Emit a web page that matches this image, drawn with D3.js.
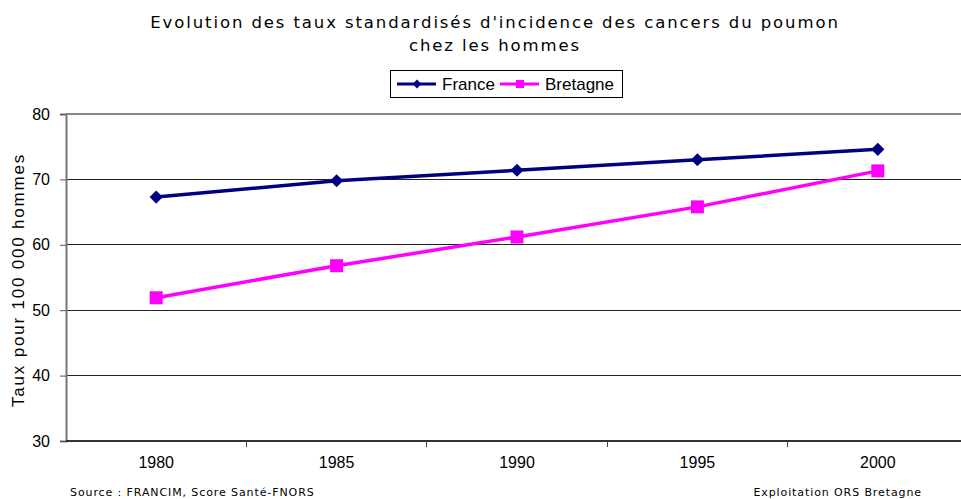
<!DOCTYPE html>
<html><head><meta charset="utf-8">
<script src="https://cdn.jsdelivr.net/npm/d3@7"></script>
<style>body{margin:0;background:#fff}svg{display:block}</style>
</head><body>
<script>
const years = ["1980","1985","1990","1995","2000"];
const france = [67.3, 69.8, 71.4, 73.0, 74.6];
const bretagne = [51.9, 56.8, 61.2, 65.8, 71.3];
const yTicks = [30,40,50,60,70,80];
const titleLines = ["Evolution des taux standardisés d'incidence des cancers du poumon","chez les hommes"];
const seriesNames = ["France","Bretagne"];

(function(){
const W=961,H=499;
const svg=d3.select("body").append("svg").attr("width",W).attr("height",H);
const mLeft=66, mTop=114, mBottom=441, mRight=968;
const x=d3.scaleBand().domain(years).range([mLeft,mRight]);
const y=d3.scaleLinear().domain([30,80]).range([mBottom,mTop]);
const arial="Liberation Sans, Arial, sans-serif", verd="DejaVu Sans, Verdana, sans-serif";

// gridlines
svg.append("g").selectAll("line").data(yTicks.filter(d=>d>30)).join("line")
 .attr("x1",mLeft).attr("x2",W).attr("y1",d=>y(d)).attr("y2",d=>y(d))
 .attr("stroke",d=>d===80?"#888":"#222").attr("stroke-width",d=>d===80?2:1).attr("shape-rendering","crispEdges");

// y axis
const ya=svg.append("g").attr("transform",`translate(${mLeft},0)`)
 .call(d3.axisLeft(y).tickValues(yTicks).tickSize(6).tickPadding(10));
ya.select(".domain").attr("stroke","#777").attr("stroke-width",2);
ya.selectAll(".tick line").attr("stroke","#555");
ya.selectAll("text").attr("font-family",arial).attr("font-size",16).attr("fill","#000");

// x axis
const xa=svg.append("g").attr("transform",`translate(0,${mBottom})`)
 .call(d3.axisBottom(x).tickSize(0).tickPadding(16));
xa.select(".domain").attr("stroke","#333").attr("stroke-width",2).attr("d",`M${mLeft},0H${W}`);
xa.selectAll("text").attr("font-family",arial).attr("font-size",16).attr("fill","#000");
svg.append("g").selectAll("line").data(years.slice(1)).join("line")
 .attr("x1",d=>x(d)).attr("x2",d=>x(d)).attr("y1",mBottom).attr("y2",mBottom+6)
 .attr("stroke","#444").attr("shape-rendering","crispEdges");

const cx=d=>x(d)+x.bandwidth()/2;
const line=d3.line().x((d,i)=>cx(years[i])).y(d=>y(d));
svg.append("path").datum(france).attr("d",line).attr("fill","none").attr("stroke","#000080").attr("stroke-width",3.5);
svg.append("path").datum(bretagne).attr("d",line).attr("fill","none").attr("stroke","#FF00FF").attr("stroke-width",3.5);
const diamond=d3.symbol().type(d3.symbolDiamond2).size(110);
svg.append("g").selectAll("path").data(france).join("path")
 .attr("d",diamond).attr("transform",(d,i)=>`translate(${cx(years[i])},${y(d)})`).attr("fill","#000080");
svg.append("g").selectAll("rect").data(bretagne).join("rect")
 .attr("x",(d,i)=>cx(years[i])-6.5).attr("y",d=>y(d)-6.5).attr("width",13).attr("height",13).attr("fill","#FF00FF");

// y title
svg.append("text").attr("transform","translate(24,280) rotate(-90)").attr("text-anchor","middle")
 .attr("font-family",arial).attr("font-size",17).attr("letter-spacing",1.8).text("Taux pour 100 000 hommes");

// title
svg.append("g").selectAll("text").data(titleLines).join("text")
 .attr("x",495).attr("y",(d,i)=>28+i*23).attr("text-anchor","middle")
 .attr("font-family",verd).attr("font-size",16.5).attr("letter-spacing",1.9).text(d=>d);

// legend
const lg=svg.append("g");
lg.append("rect").attr("x",390.5).attr("y",70.5).attr("width",232).attr("height",27).attr("fill","#fff").attr("stroke","#000");
lg.append("line").attr("x1",397).attr("x2",436).attr("y1",84).attr("y2",84).attr("stroke","#000080").attr("stroke-width",3);
lg.append("path").attr("d",d3.symbol().type(d3.symbolDiamond2).size(50)).attr("transform","translate(417,84)").attr("fill","#000080");
lg.append("text").attr("x",442).attr("y",90).attr("font-family",arial).attr("font-size",17).text(seriesNames[0]);
lg.append("line").attr("x1",500).attr("x2",539).attr("y1",84).attr("y2",84).attr("stroke","#FF00FF").attr("stroke-width",3);
lg.append("rect").attr("x",516).attr("y",80).attr("width",8).attr("height",8).attr("fill","#FF00FF");
lg.append("text").attr("x",545).attr("y",90).attr("font-family",arial).attr("font-size",17).text(seriesNames[1]);

// footer
svg.append("text").attr("x",70).attr("y",496).attr("font-family",verd).attr("font-size",11).attr("letter-spacing",0.9).text("Source : FRANCIM, Score Santé-FNORS");
svg.append("text").attr("x",922).attr("y",496).attr("text-anchor","end").attr("font-family",verd).attr("font-size",11).attr("letter-spacing",0.9).text("Exploitation ORS Bretagne");
})();
</script>
</body></html>
